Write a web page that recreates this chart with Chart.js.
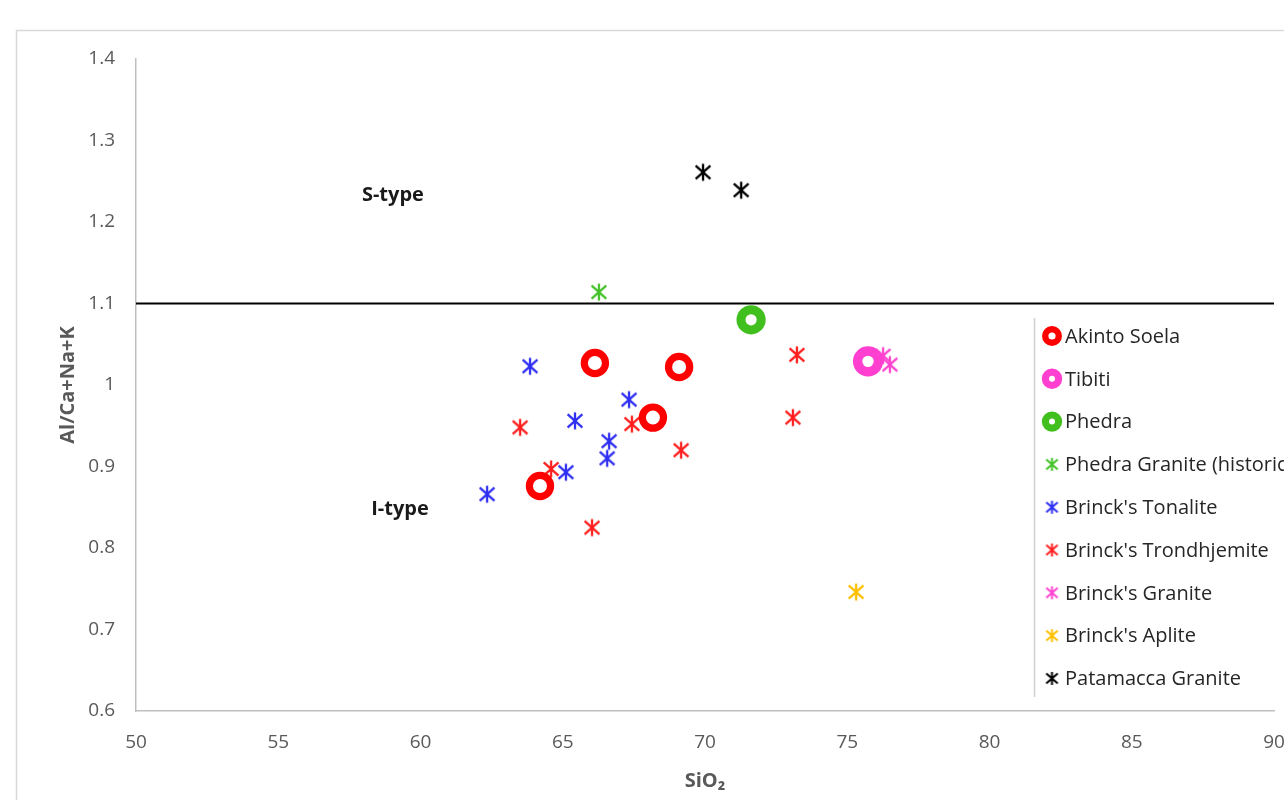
<!DOCTYPE html>
<html>
<head>
<meta charset="utf-8">
<title>Al/Ca+Na+K vs SiO2</title>
<script src="https://cdn.jsdelivr.net/npm/chart.js@4.4.1/dist/chart.umd.min.js"></script>
<style>
  html, body { margin: 0; padding: 0; background: #ffffff; overflow: hidden; }
  canvas { display: block; }
</style>
</head>
<body>
<canvas id="chart" width="1284" height="800"></canvas>
<script>
// ---- Data: SiO2 (wt%) and Al/(Ca+Na+K) for each rock group ----
const akintoSoelaSiO2 = [66.13, 69.09, 68.17, 64.20];
const akintoSoelaRatio = [1.027, 1.022, 0.960, 0.876];

const tibitiSiO2 = [75.73];
const tibitiRatio = [1.029];

const phedraSiO2 = [71.62];
const phedraRatio = [1.080];

const phedraHistoricSiO2 = [66.27];
const phedraHistoricRatio = [1.114];

const tonaliteSiO2 = [63.85, 65.43, 67.33, 66.63, 66.56, 65.11, 62.34];
const tonaliteRatio = [1.023, 0.956, 0.982, 0.931, 0.910, 0.893, 0.866];

const trondhjemiteSiO2 = [63.50, 67.43, 64.59, 66.03, 69.16, 73.23, 73.09];
const trondhjemiteRatio = [0.948, 0.952, 0.897, 0.825, 0.920, 1.037, 0.960];

const brinckGraniteSiO2 = [76.26, 76.50];
const brinckGraniteRatio = [1.036, 1.025];

const apliteSiO2 = [75.31];
const apliteRatio = [0.746];

const patamaccaSiO2 = [69.93, 71.27];
const patamaccaRatio = [1.261, 1.239];

// S-type / I-type boundary
const boundarySiO2 = [50, 90];
const boundaryRatio = [1.1, 1.1];

// Field labels
const fieldLabels = ['S-type', 'I-type'];
const fieldLabelSiO2 = [59.03, 59.28];
const fieldLabelRatio = [1.233, 0.848];

// Axis ticks
const xTickValues = [50, 55, 60, 65, 70, 75, 80, 85, 90];
const yTickValues = [0.6, 0.7, 0.8, 0.9, 1.0, 1.1, 1.2, 1.3, 1.4];

const toPoints = (xs, ys) => xs.map((x, i) => ({ x: x, y: ys[i] }));

// Asterisk marker: vertical bar crossed by two diagonals
function asterisk(color, half, lw) {
  const s = Math.ceil(half * 2 + lw * 2 + 2);
  const c = document.createElement('canvas');
  c.width = s; c.height = s;
  const g = c.getContext('2d');
  g.strokeStyle = color;
  g.lineWidth = lw;
  const m = s / 2;
  const dx = half * 0.88, dy = half * 0.78;
  g.beginPath();
  g.moveTo(m, m - half); g.lineTo(m, m + half);
  g.moveTo(m - dx, m - dy); g.lineTo(m + dx, m + dy);
  g.moveTo(m + dx, m - dy); g.lineTo(m - dx, m + dy);
  g.stroke();
  return c;
}

const FONT = "'Open Sans', 'Liberation Sans', sans-serif";
const TEXT_GREY = '#595959';

function ringSet(label, xs, ys, color, r, bw, legendR, legendBw) {
  return {
    label: label,
    data: toPoints(xs, ys),
    pointStyle: 'circle',
    pointRadius: r,
    pointHoverRadius: r,
    pointBorderWidth: bw,
    pointHoverBorderWidth: bw,
    pointBorderColor: color,
    pointBackgroundColor: '#ffffff',
    showLine: false,
    legendMarker: { kind: 'ring', color: color, r: legendR, bw: legendBw }
  };
}

function starSet(label, xs, ys, color) {
  const img = asterisk(color, 8.4, 2.3);
  return {
    label: label,
    data: toPoints(xs, ys),
    pointStyle: img,
    pointRadius: 8,
    showLine: false,
    borderColor: color,
    backgroundColor: color,
    legendMarker: { kind: 'star', img: asterisk(color, 6.5, 2) }
  };
}

const datasets = [
  ringSet('Akinto Soela', akintoSoelaSiO2, akintoSoelaRatio, '#ff0000', 10.6, 7.2, 6.8, 6.4),
  ringSet('Tibiti', tibitiSiO2, tibitiRatio, '#ff3fcf', 10.4, 9.4, 6.6, 7.2),
  ringSet('Phedra', phedraSiO2, phedraRatio, '#40bf1f', 10.1, 9, 6.6, 7.2),
  starSet('Phedra Granite (historic)', phedraHistoricSiO2, phedraHistoricRatio, '#44c22a'),
  starSet("Brinck's Tonalite", tonaliteSiO2, tonaliteRatio, '#2f2ff2'),
  starSet("Brinck's Trondhjemite", trondhjemiteSiO2, trondhjemiteRatio, '#ff1f1f'),
  starSet("Brinck's Granite", brinckGraniteSiO2, brinckGraniteRatio, '#ff44d0'),
  starSet("Brinck's Aplite", apliteSiO2, apliteRatio, '#ffc000'),
  starSet('Patamacca Granite', patamaccaSiO2, patamaccaRatio, '#000000'),
  {
    label: 'boundary',
    data: toPoints(boundarySiO2, boundaryRatio),
    showLine: true,
    borderColor: '#000000',
    borderWidth: 2,
    pointRadius: 0,
    pointHoverRadius: 0,
    fill: false,
    isBoundary: true
  }
];

// Outer frame of the chart
const framePlugin = {
  id: 'frame',
  beforeDraw(chart) {
    const ctx = chart.ctx;
    ctx.save();
    ctx.fillStyle = '#ffffff';
    ctx.fillRect(0, 0, chart.width, chart.height);
    ctx.strokeStyle = '#d9d9d9';
    ctx.lineWidth = 1.5;
    ctx.strokeRect(16.5, 30.5, 3000, 3000);
    ctx.restore();
  }
};

// S-type / I-type field labels
const fieldLabelPlugin = {
  id: 'fieldLabels',
  afterDatasetsDraw(chart) {
    const ctx = chart.ctx;
    const xs = chart.scales.x, ys = chart.scales.y;
    ctx.save();
    ctx.font = 'bold 20px ' + FONT;
    ctx.fillStyle = '#1a1a1a';
    ctx.textAlign = 'center';
    ctx.textBaseline = 'middle';
    fieldLabels.forEach((t, i) => {
      ctx.fillText(t, xs.getPixelForValue(fieldLabelSiO2[i]), ys.getPixelForValue(fieldLabelRatio[i]));
    });
    ctx.restore();
  }
};

// Legend box sitting over the right side of the plot
const legendPlugin = {
  id: 'insetLegend',
  afterDraw(chart) {
    const ctx = chart.ctx;
    const box = { left: 1031, top: 312, bottom: 703, lineX: 1034.5, lineTop: 318, lineBottom: 697 };
    const firstY = 336, step = 42.8, markerX = 1052, textX = 1065;
    ctx.save();
    ctx.fillStyle = '#ffffff';
    ctx.fillRect(box.left, box.top, chart.width - box.left, box.bottom - box.top);
    ctx.strokeStyle = '#d0d0d0';
    ctx.lineWidth = 1.5;
    ctx.beginPath();
    ctx.moveTo(box.lineX, box.lineTop);
    ctx.lineTo(box.lineX, box.lineBottom);
    ctx.stroke();

    ctx.font = '20px ' + FONT;
    ctx.textAlign = 'left';
    ctx.textBaseline = 'middle';
    let row = 0;
    chart.data.datasets.forEach((ds) => {
      if (ds.isBoundary) return;
      const y = firstY + row * step;
      const m = ds.legendMarker;
      if (m.kind === 'ring') {
        ctx.beginPath();
        ctx.arc(markerX, y, m.r, 0, Math.PI * 2);
        ctx.fillStyle = '#ffffff';
        ctx.fill();
        ctx.lineWidth = m.bw;
        ctx.strokeStyle = m.color;
        ctx.stroke();
      } else {
        ctx.drawImage(m.img, markerX - m.img.width / 2, y - m.img.height / 2);
      }
      ctx.fillStyle = '#262626';
      ctx.fillText(ds.label, textX, y + 1);
      row++;
    });
    ctx.restore();
  }
};

new Chart(document.getElementById('chart'), {
  type: 'scatter',
  data: { datasets: datasets },
  options: {
    responsive: false,
    animation: false,
    devicePixelRatio: 1,
    layout: { autoPadding: false, padding: { left: 16, top: 59, right: 10, bottom: 0 } },
    plugins: {
      legend: { display: false },
      tooltip: { enabled: false }
    },
    scales: {
      x: {
        type: 'linear',
        min: 50,
        max: 90,
        afterBuildTicks(scale) { scale.ticks = xTickValues.map(v => ({ value: v })); },
        afterFit(scale) {
          scale.height = 89;
          scale.paddingLeft = 0;
          scale.paddingRight = 0;
        },
        grid: { display: false, drawTicks: false },
        border: { display: true, color: '#bfbfbf', width: 1.5 },
        ticks: {
          padding: 20.5,
          color: TEXT_GREY,
          font: { family: FONT, size: 19 },
          maxRotation: 0,
          callback: v => String(v)
        },
        title: {
          display: true,
          text: 'SiO₂',
          color: TEXT_GREY,
          font: { family: FONT, size: 20, weight: 'bold' },
          padding: { top: 0, bottom: 7 }
        }
      },
      y: {
        type: 'linear',
        min: 0.6,
        max: 1.4,
        afterBuildTicks(scale) { scale.ticks = yTickValues.map(v => ({ value: v })); },
        afterFit(scale) {
          scale.width = 120;
          scale.paddingTop = 0;
          scale.paddingBottom = 0;
        },
        grid: { display: false, drawTicks: false },
        border: { display: true, color: '#bfbfbf', width: 1.5 },
        ticks: {
          padding: 21,
          color: TEXT_GREY,
          font: { family: FONT, size: 19 },
          callback: v => String(Number(v.toFixed(1)))
        },
        title: {
          display: true,
          text: 'Al/Ca+Na+K',
          color: TEXT_GREY,
          font: { family: FONT, size: 20, weight: 'bold' },
          padding: { top: 40, bottom: 0 }
        }
      }
    }
  },
  plugins: [framePlugin, fieldLabelPlugin, legendPlugin]
});
</script>
</body>
</html>
